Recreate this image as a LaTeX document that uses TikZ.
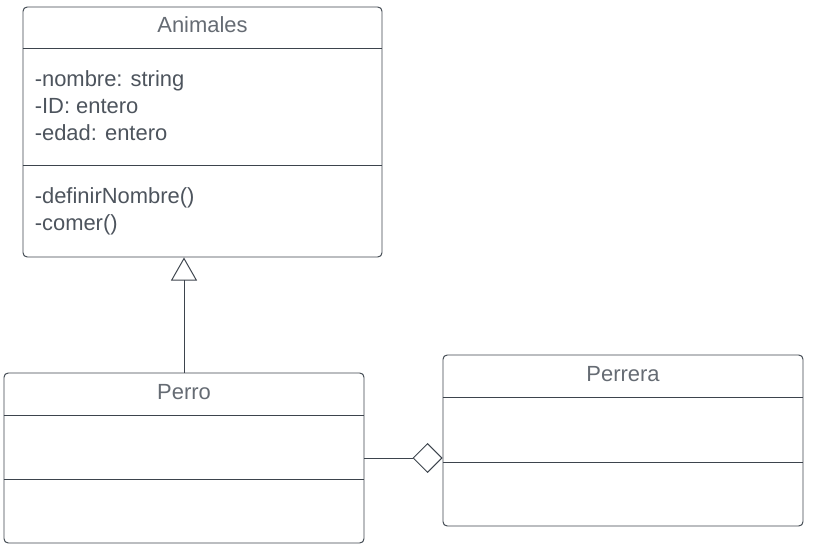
\documentclass[tikz,border=0pt]{standalone}
\usepackage{fontspec}
\setmainfont{Liberation Sans}
\usetikzlibrary{arrows.meta}
\usetikzlibrary{positioning}
\usetikzlibrary{calc}

\definecolor{umlline}{HTML}{3D444D}
\definecolor{umltitle}{HTML}{656B73}
\definecolor{umltext}{HTML}{4D545D}
\def\px{0.025cm}

\tikzset{
    classbox/.style={draw=umlline, line width=0.7pt, rounded corners=3pt, inner sep=0pt},
    title/.style={text=umltitle, font=\fontsize{15.6}{18}\selectfont, inner sep=0pt},
    member/.style={text=umltext, font=\fontsize{15.6}{18}\selectfont, inner sep=0pt, anchor=base west},
    sep/.style={draw=umlline, line width=0.7pt},
    inherit/.style={draw=umlline, line width=0.7pt, -{Triangle[open, length=16.4pt, width=18.5pt]}},
    aggreg/.style={draw=umlline, line width=0.7pt, -{Diamond[open, length=21.3pt, width=21.3pt]}}
}

\begin{document}
\begin{tikzpicture}[x=\px, y=-\px]
        \useasboundingbox (0,0) rectangle (818,544);

        % Class boxes
        \node[classbox, minimum width={359*\px}, minimum height={250*\px}] (anim) at (202.5,132) {};
        \node[classbox, minimum width={360*\px}, minimum height={170*\px}] (perro) at (184,458) {};
        \node[classbox, minimum width={360*\px}, minimum height={171*\px}] (perrera) at (623,440.5) {};

        % Titles
        \node[title] (animTitle) at ([yshift=-18*\px]anim.north) {Animales};
        \node[title] (perroTitle) at ([yshift=-19.5*\px]perro.north) {Perro};
        \node[title] (perreraTitle) at ([yshift=-20*\px]perrera.north) {Perrera};

        % Compartment lines
        \draw[sep] ([yshift=-42*\px]anim.north west) -- ([yshift=-42*\px]anim.north east);
        \draw[sep] ([yshift=-159*\px]anim.north west) -- ([yshift=-159*\px]anim.north east);
        \draw[sep] ([yshift=-43*\px]perro.north west) -- ([yshift=-43*\px]perro.north east);
        \draw[sep] ([yshift=-107*\px]perro.north west) -- ([yshift=-107*\px]perro.north east);
        \draw[sep] ([yshift=-43*\px]perrera.north west) -- ([yshift=-43*\px]perrera.north east);
        \draw[sep] ([yshift=-108*\px]perrera.north west) -- ([yshift=-108*\px]perrera.north east);

        % Attributes and methods
        \foreach \t [count=\i] in {-nombre: string, -ID: entero, -edad: entero} {
            \node[member] (animAttr\i) at ([xshift=12*\px, yshift={-(53+27*\i)*\px}]anim.north west) {\t};
        }
        \foreach \t [count=\i] in {-definirNombre(), -comer()} {
            \node[member] (animMeth\i) at ([xshift=12*\px, yshift={-(170+27*\i)*\px}]anim.north west) {\t};
        }

        % Relations
        \draw[inherit] (perro.north) -- (perro.north |- anim.south); % generalisation
        \draw[aggreg] (perro.east) -- (perro.east -| perrera.west);  % aggregation
    \end{tikzpicture}
\end{document}
